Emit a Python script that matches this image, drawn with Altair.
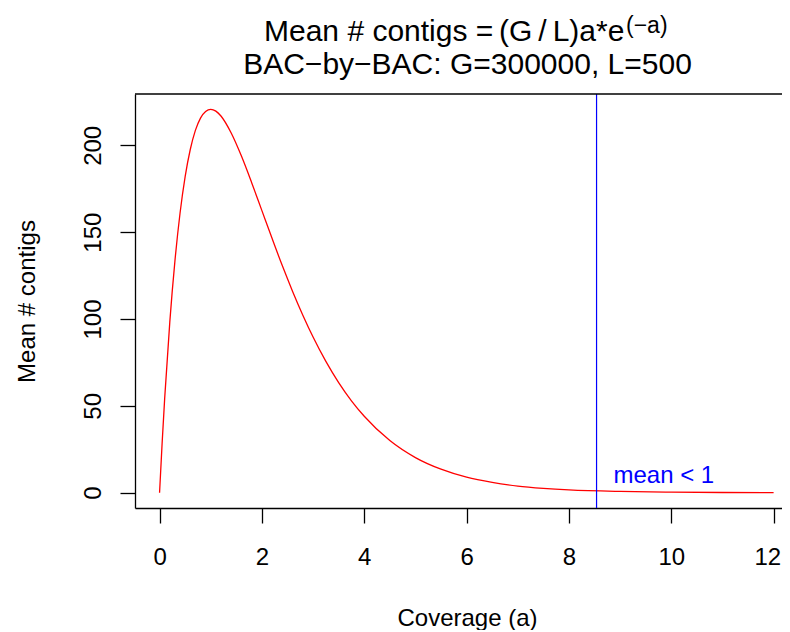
import altair as alt
import pandas as pd

# Values
coverage = [0, 0.05, 0.1, 0.2, 0.3, 0.4, 0.5, 0.6, 0.7, 0.8, 0.9, 1.0, 1.1, 1.2, 1.4, 1.6,
            1.8, 2.0, 2.2, 2.4, 2.6, 2.8, 3.0, 3.25, 3.5, 3.75, 4.0, 4.5, 5.0, 5.5, 6.0,
            6.5, 7.0, 7.5, 8.0, 9.0, 10.0, 11.0, 12.0]
mean_contigs = [0, 28.5, 54.3, 98.2, 133.3, 160.9, 182.0, 197.6, 208.6, 215.7, 219.5, 220.7,
                219.7, 216.9, 207.1, 193.8, 178.5, 162.4, 146.3, 130.6, 115.9, 102.2, 89.6,
                75.6, 63.4, 52.9, 44.0, 30.0, 20.2, 13.5, 8.9, 5.9, 3.8, 2.5, 1.6, 0.7, 0.3,
                0.1, 0.0]
cutoff = [8.54]
note_x = [8.87]
note_y = [5.8]
note_text = ["mean < 1"]
x_ticks = [0, 2, 4, 6, 8, 10, 12]
y_ticks = [0, 50, 100, 150, 200]
title_a = ["Mean # contigs ="]
title_b = ["(G\u2009/\u2009L)a*e"]
title_sup = ["(\u2212a)"]
subtitle = ["BAC\u2212by\u2212BAC: G=300000, L=500"]

FONT = "Liberation Sans"
W, H = 647, 414

curve_df = pd.DataFrame({"a": coverage, "m": mean_contigs})
cut_df = pd.DataFrame({"a": cutoff})
note_df = pd.DataFrame({"a": note_x, "m": note_y, "t": note_text})

xscale = alt.Scale(domain=[-0.48, 12.164], nice=False, zero=False)
yscale = alt.Scale(domain=[-8.83, 229.56], nice=False, zero=False)

xaxis = alt.Axis(values=x_ticks, format="d", grid=False, domain=True, domainColor="black",
                 domainWidth=1.3, tickColor="black",
                 tickSize=15, tickWidth=1.3, labelFont=FONT, labelFontSize=24, labelColor="black",
                 labelBaseline="alphabetic", labelPadding=41, labelFlush=10, labelFlushOffset=7,
                 title="Coverage (a)", titleFont=FONT, titleFontSize=24, titleFontWeight="normal",
                 titleColor="black", titleBaseline="alphabetic", titleY=117, titleX=332)
yaxis = alt.Axis(values=y_ticks, format="d", grid=False, domain=True, domainColor="black",
                 domainWidth=1.3, tickColor="black",
                 tickSize=15, tickWidth=1.3, labelFont=FONT, labelFontSize=24, labelColor="black",
                 labelAngle=270, labelAlign="center", labelBaseline="alphabetic", labelPadding=20,
                 labelFlush=False,
                 title="Mean # contigs", titleFont=FONT, titleFontSize=24, titleFontWeight="normal",
                 titleColor="black", titleAngle=270, titleAlign="center",
                 titleBaseline="alphabetic", titleX=-101, titleY=207)

curve = alt.Chart(curve_df).mark_line(color="#FF0000", strokeWidth=1.3,
                                      interpolate="monotone").encode(
    x=alt.X("a:Q", scale=xscale, axis=xaxis),
    y=alt.Y("m:Q", scale=yscale, axis=yaxis),
)

vline = alt.Chart(cut_df).mark_rule(color="#0000FF", strokeWidth=1.2).encode(
    x=alt.X("a:Q", scale=xscale)
)

note = alt.Chart(note_df).mark_text(color="#0000FF", font=FONT, fontSize=24, align="left",
                                    baseline="alphabetic").encode(
    x=alt.X("a:Q", scale=xscale), y=alt.Y("m:Q", scale=yscale), text="t:N"
)

# top edge of the plot box (the right edge lies outside the picture)
top_edge = alt.Chart(pd.DataFrame({"t": [0]})).mark_rule(color="black", strokeWidth=1.3).encode(
    x=alt.value(0), x2=alt.value(W), y=alt.value(0)
)

def label(values, x, y, size, align):
    df = pd.DataFrame({"t": values})
    return alt.Chart(df).mark_text(font=FONT, fontSize=size, align=align, baseline="alphabetic",
                                   color="black").encode(
        x=alt.value(x), y=alt.value(y), text="t:N")

t1 = label(title_a, 129, -53, 30, "left")
t2 = label(title_b, 364, -53, 30, "left")
t3 = label(title_sup, 491, -61, 23, "left")
t4 = label(subtitle, 332.5, -20, 30, "center")

chart = alt.layer(curve, vline, note, top_edge, t1, t2, t3, t4).properties(
    width=W, height=H,
    background="white",
    autosize=alt.AutoSizeParams(type="none"),
    padding={"left": 127, "top": 86, "right": 0, "bottom": 122},
).configure_view(stroke=None)

chart.save("out.html", embed_options={"renderer": "svg", "actions": False})
